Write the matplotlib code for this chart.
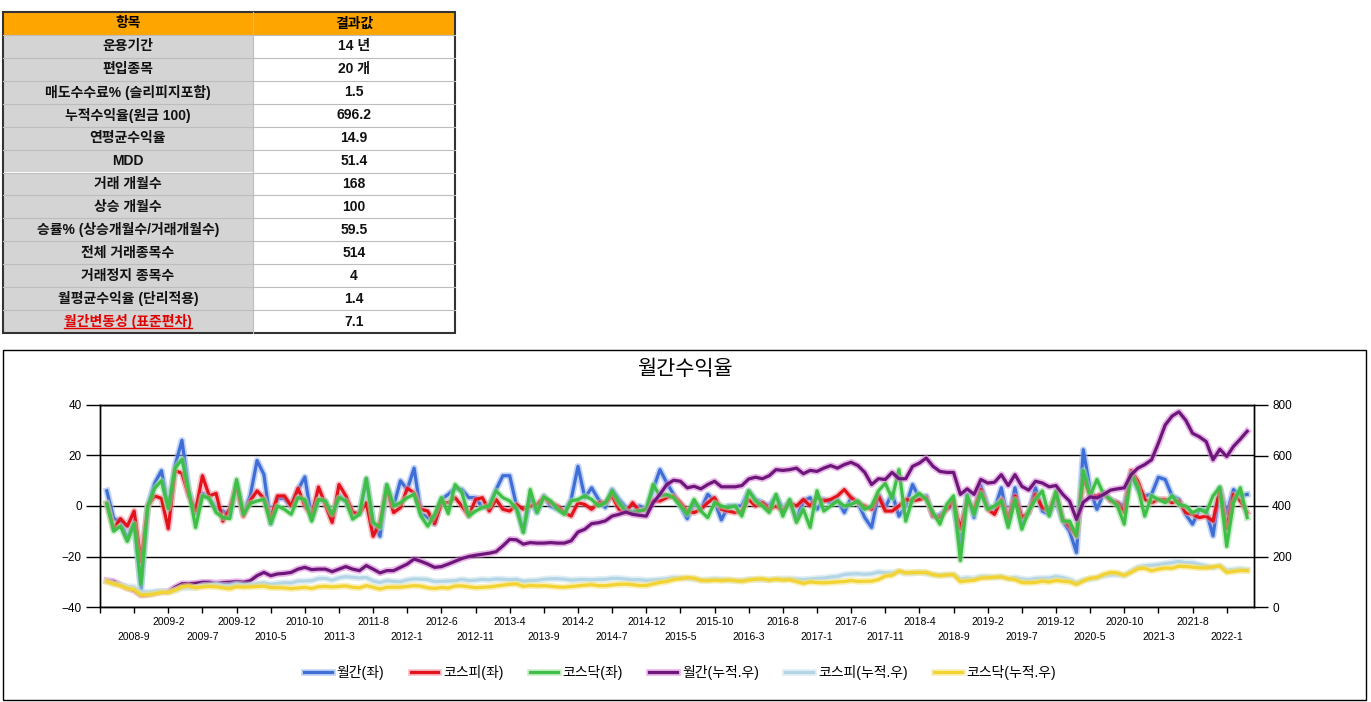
import matplotlib
matplotlib.use("Agg")
import matplotlib.pyplot as plt
import matplotlib.patheffects as pe
from matplotlib.patches import Rectangle
import numpy as np
import pandas as pd

plt.rcParams["font.family"] = ["Liberation Sans", "Noto Sans CJK KR", "DejaVu Sans"]

# ---- summary table ----
TABLE_HEADER = ["항목", "결과값"]
TABLE_ITEMS = [
    "운용기간", "편입종목", "매도수수료% (슬리피지포함)", "누적수익율(원금 100)",
    "연평균수익율", "MDD", "거래 개월수", "상승 개월수",
    "승률% (상승개월수/거래개월수)", "전체 거래종목수", "거래정지 종목수",
    "월평균수익율 (단리적용)", "월간변동성 (표준편차)",
]
TABLE_VALUES = [
    "14 년", "20 개", "1.5", "696.2", "14.9", "51.4", "168", "100",
    "59.5", "514", "4", "1.4", "7.1",
]

# ---- monthly series, 2008-5 .. 2022-4 ----
MONTHS = pd.period_range("2008-05", periods=168, freq="M")

MONTHLY = [
    6, -5, -6, -13, -6, -33, 0, 9, 14, -1, 16, 26, 6, -3, 5, 3, -1, -2, -4, 9,
    -3, 4, 18, 12.5, -7, 3, 3, 0, 6.5, 11.5, -5, 2.6, 2, -4.6, 4, 2, -3, -3, 10.5, -6.5,
    -12, 8, 0, 10, 6.5, 15, -3, -4.6, -7, 2.6, 4.6, 7, 6.5, 3.3, 3.3, -0.6, 0, 6.5, 12, 12,
    0, -10, 2.6, -2.6, 4, 0, -1.3, -2.6, 2.6, 15.7, 3.3, 7.2, 2.6, -0.6, 6.5, 2.6, -0.6, -2.6, 0, -1.3,
    6.5, 14.4, 9.2, 4.6, 0, -5, 1.3, -1.3, 4.6, 2, -5.5, 0, 0, 0, 6, 2.6, 1.3, 0, 4, -1.3,
    2, -5.2, 2, 3.3, -1.3, 2.6, 1.3, 2.6, -2.6, 3.3, 1.3, -4.6, -8.5, 4.6, -0.6, 5, -4, 0, 8.5, 3,
    4, -4, -3.6, -1, 0, -15, 4.5, -4.5, 8, 0, -1.3, 7.2, -6.5, 7.2, -6.5, -2.6, 7.2, -2, -3.3, 2.6,
    -6, -10, -18.4, 22.3, 6.5, -1.3, 5.2, 2.6, 1.3, 0, 12.4, 6.5, 4, 4.6, 11.4, 10.5, 4, 2.6, -3.3, -7.2,
    -1.3, -2, -11.8, 7.2, -3, 6.5, 4, 4.6,
]
KOSPI = [
    1, -9, -5, -8, -2, -22, 0, 4, 3, -9, 14, 13, 4, -2, 12, 4, 5, -6, -1, 8,
    -4, 2, 6, 3, -5, 4, 4, 0, 7, 0, -4, 7.5, 0.6, -6.5, 8.5, 4, -2.6, -3, 1.3, -12,
    -6.5, 7, -2.6, -0.6, 7, 5.2, -1.3, -2, -7, 1.3, 1.3, 3.3, 0, -4, 2.6, 3.3, -2, 2.6, -1.3, -2,
    0.6, -1.3, 0, 0.6, 3.3, 1.3, 0, -2.6, -4, 1.3, 0.6, -1.3, 1.3, 1.3, 4, -1.3, -2.6, 1.3, -2, -1.3,
    2, 2, 3.3, 4, 1.3, -2, -2.6, -1.3, 1.3, 3.3, -1.3, -2, -2.6, -2, 2.6, 0, 1.3, -1.3, 0, -2,
    1.3, 0, 2.6, 0, 3.3, 2, 2.6, 4, 6.5, 3.3, 1.3, 0, -1.3, 4, -2, -2, 0, 2.6, 2, 2.6,
    3.3, -4, -4.6, -1.3, 2, -9.2, 2, -1.3, 6.5, -1.3, -3.3, 2.6, -5.2, 4, -4.6, -2.6, 4.6, -0.6, -2, 5.2,
    -5.2, -8, -12, 11, 4, 4, 5.2, 2, 1.3, -2.6, 14, 9.8, 2.6, 1.3, 2.6, 2.6, 1.3, 2, -2.6, -3.3,
    -4.6, -4, -6, 6.5, -9, 4.6, 2, -2.6,
]
KOSDAQ = [
    1, -10, -8, -14, -7, -31, 0, 7, 10, -1, 15, 18.5, 6, -8.5, 4, 3, -2.6, -4.6, -5, 10.5,
    -3.3, 1, 2, 2.6, -7, 0, -1.3, -3.3, 3.3, 2.6, -6, 2.6, 2, -3.3, 3.3, 2, -5.2, -3.3, 11, -6.5,
    -8.5, 8.5, 0, 1.3, 3.3, 4.6, -4, -8, -3.3, 3.3, -3, 8.5, 5.2, -4, -2, -0.6, 0, 6, 3.3, 2,
    -1.3, -10.5, 6.5, -2.6, 3.6, 2, -1.3, -3.3, 2, 2.6, 4, 2.6, 0, 1.3, 6, 1.3, -2, -2.6, -2, -1.3,
    8.5, 4, 4.6, 3.3, 0, -3.3, 2.6, -2, -4.6, 1.3, 0, -0.6, 0, -4, 6, 2, 0, -2.6, 4.6, -4,
    2.6, -6.5, -1.3, -8.5, 6, -2, 0, 2, 0, 0.6, 2, -1.3, 0, 6, 9, 3, 14.4, -6, 3, 5,
    2.6, -2.6, -7.2, 0.6, 4, -21.6, 4, -3.3, 5.2, -1.3, 0, 2, -8.5, 2.6, -9.2, -2, 2.6, 6, -4, 6,
    -6, -6, -11.8, 14, 4, 10.5, 4.6, 2.6, 0, -7.2, 13, 7.2, -4, 4, 2.6, 1.3, 4, 0.6, 0, -2.6,
    -1.3, -2.6, 4, 7.5, -16, 1.3, 7.2, -4.6,
]

# ---- cumulative series (principal 100), right axis ----
MONTHLY_CUM = [
    105, 101, 88, 75, 66, 47, 49, 55, 60, 61, 78, 92, 92, 94, 98, 98, 95, 97, 98, 101,
    98, 104, 124, 137, 124, 131, 133, 137, 150, 157, 148, 150, 150, 140, 150, 160, 150, 144, 164, 150,
    135, 144, 144, 157, 170, 190, 181, 170, 157, 160, 170, 181, 192, 200, 205, 209, 213, 219, 242, 268,
    266, 249, 255, 253, 253, 255, 253, 253, 262, 297, 308, 330, 334, 341, 360, 367, 376, 367, 363, 360,
    413, 446, 485, 502, 498, 472, 478, 468, 485, 498, 476, 476, 476, 481, 507, 514, 508, 520, 544, 541,
    544, 550, 528, 541, 537, 550, 560, 550, 564, 573, 560, 533, 485, 508, 505, 533, 508, 508, 557, 570,
    590, 557, 537, 533, 533, 446, 468, 446, 505, 491, 494, 524, 481, 524, 478, 463, 498, 491, 476, 481,
    446, 419, 347, 415, 436, 432, 446, 463, 468, 472, 524, 550, 564, 583, 649, 721, 756, 773, 740, 688,
    674, 655, 583, 625, 596, 636, 665, 696,
]
KOSPI_CUM = [
    101.5, 91.7, 87.3, 80.8, 79.3, 61.0, 59.0, 61.6,
    63.7, 58.2, 66.1, 75.0, 76.4, 76.2, 85.3, 87.2, 91.7, 86.6, 85.3, 92.2,
    87.8, 87.3, 92.8, 95.4, 89.9, 93.0, 96.4, 95.5, 102.6, 103.2, 104.4, 112.4,
    113.4, 106.2, 115.5, 120.1, 117.4, 115.1, 116.9, 103.0, 97.0, 104.6, 101.3, 100.0,
    107.2, 111.2, 110.4, 108.6, 101.0, 101.6, 103.0, 104.4, 109.4, 104.8, 105.9, 109.4,
    107.5, 111.0, 109.9, 107.6, 109.6, 102.1, 104.9, 105.5, 109.9, 111.8, 112.0, 110.2,
    106.4, 108.5, 108.8, 107.5, 109.3, 109.7, 113.7, 113.3, 110.7, 107.6, 108.5, 105.0,
    106.8, 108.8, 111.8, 116.5, 115.9, 113.6, 111.2, 106.4, 107.6, 111.2, 109.1, 107.5,
    104.8, 105.0, 109.4, 109.3, 108.7, 108.0, 110.5, 111.5, 112.0, 110.0, 108.7, 111.0,
    113.3, 114.6, 118.4, 120.8, 128.6, 131.0, 131.7, 129.5, 131.2, 138.2, 135.7, 135.2,
    140.6, 133.0, 134.0, 137.8, 132.8, 127.5, 125.8, 127.3, 128.4, 111.2, 114.9, 111.8,
    120.8, 120.3, 117.3, 120.8, 111.8, 116.8, 111.0, 107.8, 113.0, 114.1, 114.4, 120.4,
    116.1, 108.9, 96.2, 106.7, 111.2, 115.5, 123.2, 127.5, 127.6, 124.2, 142.0, 157.4,
    163.1, 165.1, 167.7, 172.5, 175.6, 180.7, 175.5, 175.3, 168.2, 162.8, 155.6, 163.2,
    145.9, 147.9, 151.1, 147.7,
]
KOSDAQ_CUM = [
    100.6, 91.5, 84.6, 73.5, 68.3, 47.3, 48.4, 52.1,
    58.1, 57.6, 66.4, 79.9, 84.0, 76.5, 79.6, 81.8, 79.7, 76.1, 72.4, 80.5,
    78.5, 79.6, 81.2, 82.6, 76.6, 76.6, 75.5, 73.0, 75.5, 77.6, 73.5, 80.2,
    81.8, 79.3, 81.8, 83.4, 77.9, 75.8, 84.6, 78.0, 71.4, 78.2, 78.2, 78.5,
    81.3, 84.5, 82.6, 76.1, 73.8, 77.2, 75.2, 82.9, 83.7, 79.9, 76.5, 78.0,
    79.6, 83.0, 86.8, 90.0, 91.2, 81.8, 85.1, 83.4, 84.5, 82.4, 79.3, 78.5,
    81.3, 83.8, 86.5, 88.2, 84.5, 84.3, 87.6, 89.8, 90.7, 88.4, 85.2, 85.1,
    91.4, 97.5, 100.9, 108.5, 111.9, 116.5, 114.1, 105.3, 104.4, 106.0, 104.4, 107.1,
    104.7, 101.9, 106.6, 110.0, 111.6, 106.1, 110.0, 106.4, 108.2, 100.6, 93.2, 99.1,
    96.9, 95.9, 97.2, 99.5, 100.9, 104.9, 101.3, 102.0, 102.4, 108.9, 122.4, 125.3,
    142.5, 135.3, 136.9, 136.6, 137.4, 128.3, 123.7, 127.0, 128.4, 100.2, 103.9, 106.1,
    113.8, 115.5, 118.1, 119.0, 112.2, 108.3, 97.0, 96.1, 97.3, 102.4, 99.1, 105.2,
    101.9, 99.8, 89.5, 103.0, 114.0, 116.6, 129.2, 137.2, 135.0, 125.4, 137.5, 152.0,
    153.4, 143.5, 150.2, 154.2, 153.4, 161.5, 160.3, 157.9, 155.1, 154.8, 159.0, 162.3,
    137.0, 140.7, 144.3, 143.8,
]

SERIES_LEFT = [
    ("월간(좌)", MONTHLY, "#3f6fd6", "#8fb0f0"),
    ("코스피(좌)", KOSPI, "#e3121b", "#f08a9a"),
    ("코스닥(좌)", KOSDAQ, "#3fbf48", "#9ee0a0"),
]
SERIES_RIGHT = [
    ("월간(누적.우)", MONTHLY_CUM, "#6d177a", "#d77ad6"),
    ("코스피(누적.우)", KOSPI_CUM, "#b3d5e6", "#c9e2ee"),
    ("코스닥(누적.우)", KOSDAQ_CUM, "#f2d331", "#f6e27a"),
]

W, H = 1371, 702
fig = plt.figure(figsize=(W / 100, H / 100), dpi=100)
fig.patch.set_facecolor("white")

# background layer in pixel coordinates (table + chart frame)
bg = fig.add_axes([0, 0, 1, 1], zorder=0)
bg.set_xlim(0, W)
bg.set_ylim(H, 0)
bg.axis("off")

TX0, TX1, TXM = 3, 455, 253
TY0 = 12
ROW_H = (333 - 12) / 14
n_rows = len(TABLE_ITEMS) + 1
bg.add_patch(Rectangle((TX0, TY0), TX1 - TX0, ROW_H, fc="#FFA500", ec="none"))
for r in range(1, n_rows):
    y = TY0 + r * ROW_H
    bg.add_patch(Rectangle((TX0, y), TXM - TX0, ROW_H, fc="#D4D4D4", ec="none"))
    bg.add_patch(Rectangle((TXM, y), TX1 - TXM, ROW_H, fc="white", ec="none"))
for r in range(1, n_rows):
    y = TY0 + r * ROW_H
    bg.plot([TX0, TX1], [y, y], color="#BDBDBD", lw=0.8)
bg.plot([TXM, TXM], [TY0, TY0 + n_rows * ROW_H], color="#BDBDBD", lw=0.8)
bg.add_patch(Rectangle((TX0, TY0), TX1 - TX0, n_rows * ROW_H, fill=False,
                       ec="#333333", lw=1.5))

cx_left, cx_right = (TX0 + TXM) / 2, (TXM + TX1) / 2
yc = TY0 + ROW_H / 2
bg.text(cx_left, yc, TABLE_HEADER[0], ha="center", va="center", fontsize=10, weight="bold")
bg.text(cx_right, yc, TABLE_HEADER[1], ha="center", va="center", fontsize=10, weight="bold")
last_text = None
for r, (item, val) in enumerate(zip(TABLE_ITEMS, TABLE_VALUES), start=1):
    yc = TY0 + (r + 0.5) * ROW_H
    color = "#e00000" if r == len(TABLE_ITEMS) else "#111111"
    t = bg.text(cx_left, yc, item, ha="center", va="center", fontsize=10,
                weight="bold", color=color)
    bg.text(cx_right, yc, val, ha="center", va="center", fontsize=10,
            weight="bold", color="#111111")
    if r == len(TABLE_ITEMS):
        last_text = t

# chart frame
bg.add_patch(Rectangle((3, 350), 1363, 350, fill=False, ec="black", lw=1))

# ---- line chart ----
ax = fig.add_axes([100 / W, 1 - 607 / H, 1154 / W, 202 / H], zorder=1)
ax2 = ax.twinx()
ax2.set_zorder(2)
ax2.patch.set_visible(False)

x = np.arange(len(MONTHS))
handles = []
for label, vals, color, halo in SERIES_LEFT:
    (ln,) = ax.plot(x, vals, color=color, lw=2.3, label=label, solid_joinstyle="round",
                    path_effects=[pe.Stroke(linewidth=4.8, foreground=halo, alpha=0.55),
                                  pe.Normal()])
    handles.append(ln)
for label, vals, color, halo in SERIES_RIGHT:
    (ln,) = ax2.plot(x, vals, color=color, lw=2.3, label=label, solid_joinstyle="round",
                     path_effects=[pe.Stroke(linewidth=4.8, foreground=halo, alpha=0.55),
                                   pe.Normal()])
    handles.append(ln)

ax.set_xlim(-1, len(MONTHS))
ax.set_ylim(-40, 40)
ax.set_yticks([-40, -20, 0, 20, 40])
ax2.set_ylim(0, 800)
ax2.set_yticks([0, 200, 400, 600, 800])
ax.grid(axis="y", color="black", lw=1)
ax.set_axisbelow(True)

tick_pos = list(range(4, len(MONTHS), 5))
tick_lbl = []
for k, p in enumerate(tick_pos):
    s = f"{MONTHS[p].year}-{MONTHS[p].month}"
    tick_lbl.append("\n" + s if k % 2 == 0 else s)
ax.set_xticks([-1] + tick_pos)
ax.set_xticklabels([""] + tick_lbl, fontsize=7.5, linespacing=1.7)
ax.tick_params(axis="x", length=4, width=1, pad=3, color="black")
ax.tick_params(axis="y", length=10, width=1, pad=3, labelsize=8.5)
ax2.tick_params(axis="y", length=10, width=1, pad=3, labelsize=8.5)
for a in (ax, ax2):
    for sp in a.spines.values():
        sp.set_color("black")
        sp.set_linewidth(1)

fig.text(685 / W, 1 - 369 / H, "월간수익율", ha="center", va="center", fontsize=15)

fig.legend(handles, [h.get_label() for h in handles], loc="center",
           bbox_to_anchor=(680 / W, 1 - 672 / H), ncol=6, frameon=False,
           fontsize=10, handlelength=2.0, handletextpad=0.35, columnspacing=1.9)

# underline for the red table label
fig.canvas.draw()
bb = last_text.get_window_extent()
inv = bg.transData.inverted()
(ux0, uy0), (ux1, _) = inv.transform([[bb.x0, bb.y0], [bb.x1, bb.y1]])
bg.plot([ux0, ux1], [uy0 - 1, uy0 - 1], color="#e00000", lw=1)

fig.savefig("out.png", dpi=100)
